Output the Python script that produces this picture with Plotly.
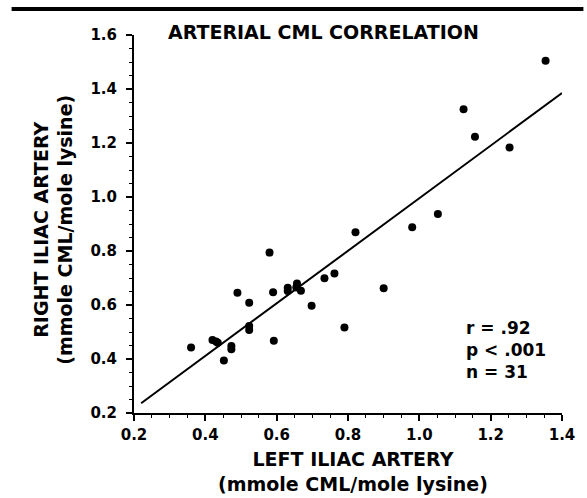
import plotly.graph_objects as go

# Data
left_iliac = [0.36, 0.42, 0.435, 0.43, 0.452, 0.473, 0.473, 0.49, 0.523, 0.523, 0.523,
              0.58, 0.59, 0.592, 0.631, 0.631, 0.657, 0.668, 0.655, 0.698, 0.734, 0.762,
              0.79, 0.821, 0.9, 0.98, 1.052, 1.124, 1.156, 1.253, 1.354]
right_iliac = [0.443, 0.47, 0.46, 0.465, 0.394, 0.448, 0.436, 0.645, 0.608, 0.522, 0.507,
               0.794, 0.647, 0.468, 0.664, 0.652, 0.68, 0.653, 0.665, 0.597, 0.699, 0.717,
               0.517, 0.869, 0.662, 0.888, 0.937, 1.325, 1.223, 1.183, 1.505]
fit_x = [0.22, 1.40]
fit_y = [0.236, 1.385]
x_ticks = [0.2, 0.4, 0.6, 0.8, 1.0, 1.2, 1.4]
y_ticks = [0.2, 0.4, 0.6, 0.8, 1.0, 1.2, 1.4, 1.6]

FONT = "DejaVu Sans, Arial, sans-serif"

fig = go.Figure()
fig.add_trace(go.Scatter(x=fit_x, y=fit_y, mode="lines",
                         line=dict(color="black", width=2), showlegend=False))
fig.add_trace(go.Scatter(x=left_iliac, y=right_iliac, mode="markers",
                         marker=dict(color="black", size=8), showlegend=False))

axis_common = dict(
    showline=True, linecolor="black", linewidth=2, showgrid=False, zeroline=False,
    ticks="outside", ticklen=6, tickwidth=2, tickcolor="black", tickformat=".1f",
    tickfont=dict(family=FONT, size=15, color="black", weight="bold"),
    minor=dict(ticks="outside", ticklen=3, tickwidth=1, tickcolor="black", dtick=0.05),
)
fig.update_xaxes(range=[0.2, 1.4], tickvals=x_ticks, ticklabelstandoff=1, **axis_common)
fig.update_yaxes(range=[0.2, 1.6], tickvals=y_ticks, ticklabelstandoff=6, **axis_common)

fig.update_layout(
    width=587, height=498,
    margin=dict(l=134, r=19, t=35, b=85),
    plot_bgcolor="white", paper_bgcolor="white",
    font=dict(family=FONT, color="black"),
    shapes=[dict(type="line", xref="paper", yref="paper", x0=-0.286, x1=1.05,
                 y0=1.069, y1=1.069, line=dict(color="black", width=4))],
    annotations=[
        dict(text="<b>ARTERIAL CML CORRELATION</b>", xref="paper", yref="paper",
             x=0.443, y=1.008, xanchor="center", yanchor="middle",
             showarrow=False, font=dict(size=19)),
        dict(text="<b>LEFT ILIAC ARTERY<br>(mmole CML/mole lysine)</b>", xref="paper",
             yref="paper", x=0.512, y=-0.154, xanchor="center", yanchor="middle",
             showarrow=False, font=dict(size=19)),
        dict(text="<b>RIGHT ILIAC ARTERY<br>(mmole CML/mole lysine)</b>", xref="paper",
             yref="paper", x=-0.19, y=0.484, xanchor="center", yanchor="middle",
             textangle=-90, showarrow=False, font=dict(size=19)),
        dict(text="<b>r = .92<br>p < .001<br>n = 31</b>", xref="paper", yref="paper",
             x=0.77, y=0.167, xanchor="left", yanchor="middle", align="left",
             showarrow=False, font=dict(size=17)),
    ],
)

# remove the browser's default 8px body margin so the figure fills the window exactly
fig.write_html("out.html",
               config={"displayModeBar": False},
               post_script="document.body.style.margin='0';document.body.style.overflow='hidden';")
